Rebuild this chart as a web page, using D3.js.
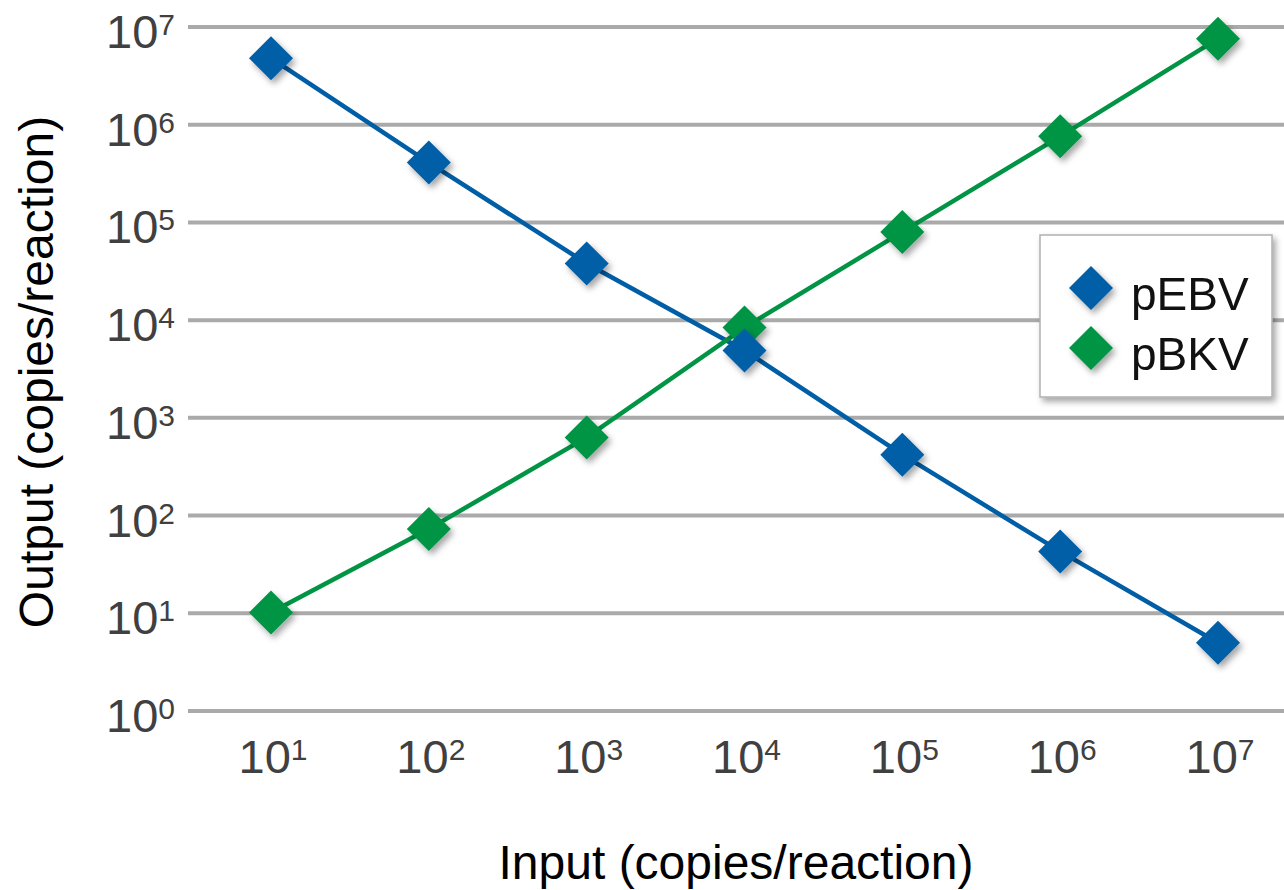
<!DOCTYPE html>
<html>
<head>
<meta charset="utf-8">
<script src="https://cdn.jsdelivr.net/npm/d3@7"></script>
<style>
  body { margin: 0; background: #fff; }
  svg { display: block; font-family: "Liberation Sans", Arial, Helvetica, sans-serif; }
</style>
</head>
<body>
<svg id="chart" width="1284" height="890"></svg>
<script>
// data
const categories = ["1", "2", "3", "4", "5", "6", "7"];      // input exponents, 10^n
const yTickExponents = [0, 1, 2, 3, 4, 5, 6, 7];
const pEBV = [4.8e6, 4.1e5, 3.8e4, 4.9e3, 4.2e2, 43, 5.0];
const pBKV = [10.2, 73, 630, 8.4e3, 8.0e4, 7.6e5, 7.6e6];
const seriesNames = ["pEBV", "pBKV"];
const seriesColors = ["#005ea6", "#009444"];

const svg = d3.select("#chart");

const x = d3.scalePoint().domain(categories).range([271, 1218]);
const y = d3.scaleLog().domain([1, 1e7]).range([711, 27]);

const defs = svg.append("defs");
defs.append("filter")
    .attr("id", "shadow")
    .attr("x", "-50%").attr("y", "-50%")
    .attr("width", "200%").attr("height", "200%")
  .append("feDropShadow")
    .attr("dx", 3).attr("dy", 4)
    .attr("stdDeviation", 3)
    .attr("flood-color", "#000")
    .attr("flood-opacity", 0.35);

// gridlines
svg.append("g")
  .selectAll("line")
  .data(yTickExponents)
  .join("line")
    .attr("x1", 188)
    .attr("x2", 1284)
    .attr("y1", d => y(Math.pow(10, d)))
    .attr("y2", d => y(Math.pow(10, d)))
    .attr("stroke", "#aaaaaa")
    .attr("stroke-width", 4);

// y tick labels
const yLabels = svg.append("g")
  .selectAll("text")
  .data(yTickExponents)
  .join("text")
    .attr("x", 175)
    .attr("y", d => y(Math.pow(10, d)) + 21)
    .attr("text-anchor", "end")
    .attr("fill", "#404040")
    .style("font-size", "47px");
yLabels.append("tspan").text("10");
yLabels.append("tspan")
    .attr("dy", -13)
    .style("font-size", "30px")
    .text(d => d);

// x tick labels
const xLabels = svg.append("g")
  .selectAll("text")
  .data(categories)
  .join("text")
    .attr("x", d => x(d) + 2)
    .attr("y", 773)
    .attr("text-anchor", "middle")
    .attr("fill", "#404040")
    .style("font-size", "47px");
xLabels.append("tspan").text("10");
xLabels.append("tspan")
    .attr("dy", -13)
    .style("font-size", "30px")
    .text(d => d);

// axis titles
svg.append("text")
    .attr("x", 736)
    .attr("y", 879)
    .attr("text-anchor", "middle")
    .attr("fill", "#000")
    .style("font-size", "48px")
    .text("Input (copies/reaction)");

svg.append("text")
    .attr("transform", "translate(53,372) rotate(-90)")
    .attr("text-anchor", "middle")
    .attr("fill", "#000")
    .style("font-size", "48px")
    .text("Output (copies/reaction)");

const allSeries = [pEBV, pBKV];
const line = d3.line()
    .x((d, i) => x(categories[i]))
    .y(d => y(d));

const diamond = s => `M0,${-s} L${s},0 L0,${s} L${-s},0 Z`;

// lines
svg.append("g")
  .selectAll("path")
  .data(allSeries)
  .join("path")
    .attr("d", d => line(d))
    .attr("fill", "none")
    .attr("stroke", (d, i) => seriesColors[i])
    .attr("stroke-width", 4.5);

// markers (green first so blue sits on top)
[1, 0].forEach(si => {
  svg.append("g")
      .attr("filter", "url(#shadow)")
    .selectAll("path")
    .data(allSeries[si])
    .join("path")
      .attr("transform", (d, i) => `translate(${x(categories[i])},${y(d)})`)
      .attr("d", diamond(22))
      .attr("fill", seriesColors[si]);
});

// legend
const legend = svg.append("g").attr("transform", "translate(1040,235)");
legend.append("rect")
    .attr("width", 232)
    .attr("height", 162)
    .attr("fill", "#fff")
    .attr("stroke", "#b0b0b0")
    .attr("stroke-width", 1.5)
    .attr("filter", "url(#shadow)");

const item = legend.selectAll("g.item")
  .data(seriesNames)
  .join("g")
    .attr("class", "item")
    .attr("transform", (d, i) => `translate(0,${53 + i * 60})`);
item.append("path")
    .attr("transform", "translate(51,0)")
    .attr("d", diamond(22))
    .attr("fill", (d, i) => seriesColors[i])
    .attr("filter", "url(#shadow)");
item.append("text")
    .attr("x", 91)
    .attr("y", 22)
    .attr("fill", "#111")
    .style("font-size", "46px")
    .text(d => d);
</script>
</body>
</html>
